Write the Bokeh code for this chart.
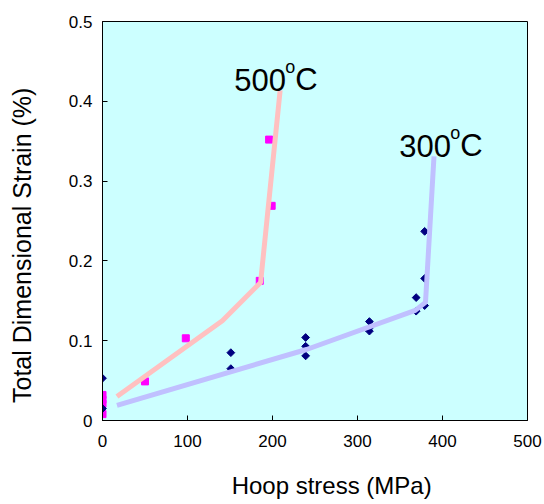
import math
from bokeh.plotting import figure
from bokeh.models import Label, Range1d, FixedTicker
from bokeh.embed import file_html
from bokeh.resources import INLINE

# 500 C data (magenta squares)
x500 = [0, 0, 0, 0, 50, 98, 185, 199, 196]
y500 = [0.008, 0.021, 0.026, 0.032, 0.049, 0.103, 0.175, 0.269, 0.352]
# 500 C trend line
lx500 = [17, 141, 186, 209]
ly500 = [0.030, 0.125, 0.173, 0.414]

# 300 C data (navy diamonds)
x300 = [0, 0, 151, 151, 239, 239, 239, 314, 314, 314, 369, 369, 379, 379, 379]
y300 = [0.053, 0.015, 0.085, 0.065, 0.104, 0.093, 0.081, 0.124, 0.116, 0.112,
        0.154, 0.137, 0.144, 0.178, 0.237]
# 300 C trend line
lx300 = [17, 240, 368, 380, 390]
ly300 = [0.019, 0.089, 0.138, 0.148, 0.331]

x_ticks = [0, 100, 200, 300, 400, 500]
y_ticks = [0, 0.1, 0.2, 0.3, 0.4, 0.5]

FONT = "Liberation Sans"
NB = "\u00a0"

p = figure(width=544, height=504, output_backend="svg", toolbar_location=None,
           x_range=Range1d(0, 500), y_range=Range1d(0, 0.5),
           min_border_left=102, min_border_right=17, min_border_top=21, min_border_bottom=84)
p.background_fill_color = "#CCFFFF"
p.border_fill_color = "white"
p.outline_line_color = "black"
p.outline_line_width = 1
p.xgrid.visible = False
p.ygrid.visible = False

for ax in (p.xaxis[0], p.yaxis[0]):
    ax.minor_tick_line_color = None
    ax.major_tick_in = 5
    ax.major_tick_out = 0
    ax.axis_line_color = "black"
    ax.major_tick_line_color = "black"
    ax.major_label_text_font = FONT
    ax.major_label_text_font_size = "17px"
    ax.major_label_text_color = "black"
    ax.axis_label_text_font = FONT
    ax.axis_label_text_font_style = "normal"
    ax.axis_label_text_color = "black"
p.xaxis[0].ticker = FixedTicker(ticks=x_ticks)
p.yaxis[0].ticker = FixedTicker(ticks=y_ticks)
p.xaxis[0].major_label_overrides = {t: str(t) for t in x_ticks}
p.yaxis[0].major_label_overrides = {0: "0", 0.1: "0.1", 0.2: "0.2", 0.3: "0.3", 0.4: "0.4", 0.5: "0.5"}
p.xaxis[0].major_label_standoff = 14
p.yaxis[0].major_label_standoff = 10

p.xaxis[0].axis_label = NB * 5 + "Hoop stress (MPa)"
p.xaxis[0].axis_label_text_font_size = "24px"
p.xaxis[0].axis_label_standoff = 22
p.yaxis[0].axis_label = "Total Dimensional Strain (%)" + NB * 7
p.yaxis[0].axis_label_text_font_size = "25px"
p.yaxis[0].axis_label_standoff = 30

p.scatter(x500, y500, marker="square", size=7, color="#FF00FF")
p.scatter(x300, y300, marker="square", angle=math.pi / 4, size=5.5, color="#000080")
p.line(lx500, ly500, line_color="#FFC0C0", line_width=5)
p.line(lx300, ly300, line_color="#C0C0FF", line_width=5)

def temp_label(x, y, num):
    p.add_layout(Label(x=x, y=y, text=num, text_font=FONT, text_font_size="31px",
                       text_color="black", text_baseline="alphabetic"))
    p.add_layout(Label(x=x, y=y, x_offset=51, y_offset=13, text="o", text_font=FONT,
                       text_font_size="18px", text_color="black", text_baseline="alphabetic"))
    p.add_layout(Label(x=x, y=y, x_offset=61, text="C", text_font=FONT, text_font_size="31px",
                       text_color="black", text_baseline="alphabetic"))

temp_label(155, 0.427, "500")
temp_label(349, 0.344, "300")

open("out.html", "w").write(file_html(p, INLINE))
